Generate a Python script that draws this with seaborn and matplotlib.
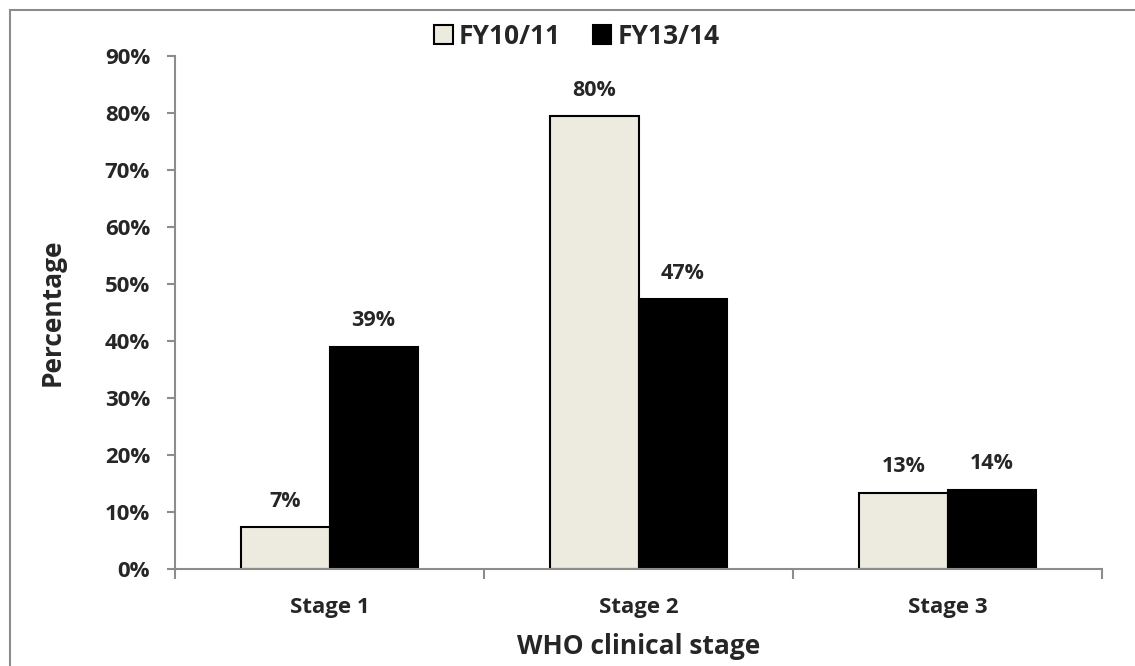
import matplotlib
matplotlib.use("Agg")
import matplotlib.pyplot as plt
from matplotlib.patches import Rectangle
from matplotlib.ticker import FuncFormatter, FixedLocator
import pandas as pd
import seaborn as sns

sns.set_theme(style="white")
plt.rcParams['font.family'] = ['Open Sans', 'DejaVu Sans']

stages = ["Stage 1", "Stage 2", "Stage 3"]
periods = ["FY10/11", "FY13/14"]
fy1011 = [7.3, 79.5, 13.4]
fy1314 = [39.0, 47.3, 13.9]
colors = ["#EDEBE0", "#000000"]

df = pd.DataFrame({
	"stage": stages * 2,
	"period": [periods[0]] * 3 + [periods[1]] * 3,
	"value": fy1011 + fy1314,
})

fig = plt.figure(figsize=(11.35, 6.66), dpi=100)
ax = fig.add_axes([175/1135, 1 - 569/666, (1102-175)/1135, (569-56)/666])

sns.barplot(data=df, x="stage", y="value", hue="period", palette=colors,
	width=0.57, edgecolor="black", linewidth=1.5, saturation=1, ax=ax, legend=True)

# value labels above each bar
for cont in ax.containers:
	for bar in cont:
		h = bar.get_height()
		ax.annotate("{:.0f}%".format(h), (bar.get_x() + bar.get_width()/2, h),
			xytext=(0, 11), textcoords="offset points", ha="center", va="bottom",
			fontsize=15.5, fontweight="bold")

ax.set_xlim(-0.5, 2.5)
ax.set_ylim(0, 90)
ax.set_yticks(range(0, 91, 10))
ax.yaxis.set_major_formatter(FuncFormatter(lambda v, p: "{:.0f}%".format(v)))
ax.xaxis.set_minor_locator(FixedLocator([-0.5, 0.5, 1.5, 2.5]))

for s in ["top", "right"]:
	ax.spines[s].set_visible(False)
for s in ["left", "bottom"]:
	ax.spines[s].set_color("#8c8c8c")
	ax.spines[s].set_linewidth(1.5)

ax.tick_params(axis="y", which="major", left=True, length=6, width=1.5, color="#8c8c8c",
	labelsize=16, pad=12)
ax.tick_params(axis="x", which="major", bottom=False, labelsize=16, pad=14)
ax.tick_params(axis="x", which="minor", bottom=True, length=7, width=1.5, color="#8c8c8c")
for lbl in ax.get_xticklabels() + ax.get_yticklabels():
	lbl.set_fontweight("bold")

ax.set_xlabel("WHO clinical stage", fontsize=19, fontweight="bold", labelpad=11)
ax.set_ylabel("Percentage", fontsize=19, fontweight="bold", labelpad=28)

leg = ax.legend(loc="center", bbox_to_anchor=(577/1135, 1 - 36/666), bbox_transform=fig.transFigure,
	ncol=2, frameon=False, handlelength=0.7, handleheight=0.7, handletextpad=0.25,
	columnspacing=1.2, borderpad=0.2, prop={"size": 19, "weight": "bold"})

fig.patches.append(Rectangle((10/1135, -0.05), 1.1, 1.05 - 10/666,
	transform=fig.transFigure, fill=False, edgecolor="#8c8c8c", linewidth=1.5))

plt.savefig("out.png", dpi=100)
